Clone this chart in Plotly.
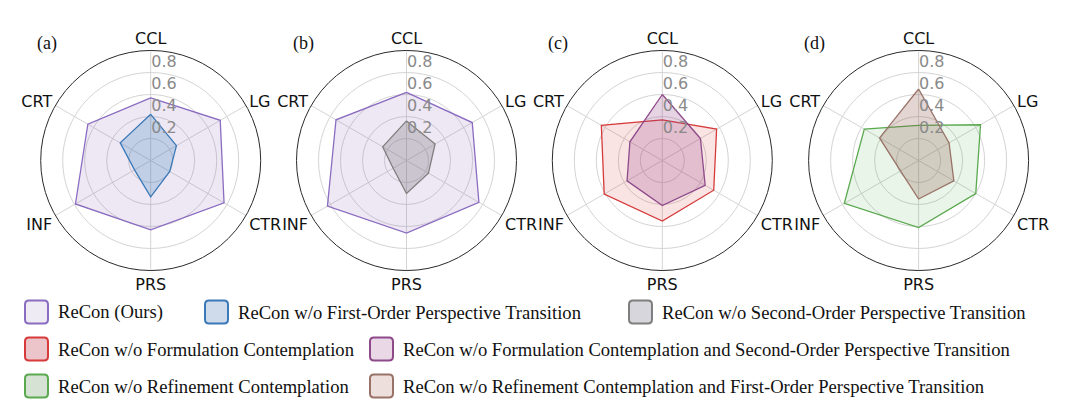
import plotly.graph_objects as go

# ---------------- data ----------------
categories = ["CCL", "LG", "CTR", "PRS", "INF", "CRT"]
radial_ticks = [0.2, 0.4, 0.6, 0.8]
panel_labels = ["(a)", "(b)", "(c)", "(d)"]

series_names = [
    "ReCon (Ours)",
    "ReCon w/o First-Order Perspective Transition",
    "ReCon w/o Second-Order Perspective Transition",
    "ReCon w/o Formulation Contemplation",
    "ReCon w/o Formulation Contemplation and Second-Order Perspective Transition",
    "ReCon w/o Refinement Contemplation",
    "ReCon w/o Refinement Contemplation and First-Order Perspective Transition",
]

# panel (a)
a_recon = [0.57, 0.73, 0.77, 0.63, 0.79, 0.66]
a_wo_first = [0.42, 0.27, 0.20, 0.33, 0.17, 0.32]
# panel (b)
b_recon = [0.62, 0.69, 0.76, 0.66, 0.83, 0.74]
b_wo_second = [0.36, 0.30, 0.23, 0.30, 0.14, 0.25]
# panel (c)
c_wo_formulation = [0.37, 0.57, 0.54, 0.55, 0.61, 0.64]
c_wo_form_second = [0.60, 0.40, 0.45, 0.41, 0.37, 0.34]
# panel (d)
d_wo_refinement = [0.32, 0.65, 0.60, 0.61, 0.78, 0.57]
d_wo_ref_first = [0.65, 0.32, 0.37, 0.35, 0.19, 0.41]

# ---------------- styles ----------------
line_colors = ["#8a6cc0", "#3a7ab8", "#7f7f7f", "#d63a3a", "#8e4a8a", "#5aa94f", "#9a7368"]
fill_colors = [
    "rgba(148,103,189,0.16)",
    "rgba(31,119,180,0.22)",
    "rgba(110,110,110,0.28)",
    "rgba(214,39,40,0.13)",
    "rgba(140,60,130,0.22)",
    "rgba(44,160,44,0.10)",
    "rgba(140,86,75,0.25)",
]
legend_fills = ["#efebf5", "#cfdbeb", "#d7d6dc", "#ecc5ca", "#ead8e6", "#d6e3d4", "#ede0dc"]

panels = [
    [(a_recon, 0), (a_wo_first, 1)],
    [(b_recon, 0), (b_wo_second, 2)],
    [(c_wo_formulation, 3), (c_wo_form_second, 4)],
    [(d_wo_refinement, 5), (d_wo_ref_first, 6)],
]

W, H = 1080, 414
centers_x = [150.7, 406.5, 662.3, 918.6]
center_y = 160.5
radius = 110

fig = go.Figure()
layout_polars = {}
for i, panel in enumerate(panels):
    pname = "polar" if i == 0 else f"polar{i+1}"
    for vals, si in panel:
        fig.add_trace(go.Scatterpolar(
            r=vals + vals[:1],
            theta=categories + categories[:1],
            mode="lines",
            fill="toself",
            fillcolor=fill_colors[si],
            line=dict(color=line_colors[si], width=1.3),
            name=series_names[si],
            showlegend=False,
            subplot=pname,
            hoverinfo="skip",
        ))
    cx = centers_x[i]
    layout_polars[pname] = dict(
        domain=dict(
            x=[(cx - radius) / W, (cx + radius) / W],
            y=[1 - (center_y + radius) / H, 1 - (center_y - radius) / H],
        ),
        bgcolor="white",
        angularaxis=dict(
            rotation=90,
            direction="clockwise",
            categoryorder="array",
            categoryarray=categories,
            showline=True,
            linecolor="#2a2a2a",
            linewidth=1,
            gridcolor="#d4d4d4",
            gridwidth=1,
            ticks="",
            tickfont=dict(family="DejaVu Sans", size=16, color="#111111"),
        ),
        radialaxis=dict(
            range=[0, 1],
            angle=90,
            tickangle=90,
            side="clockwise",
            tickvals=radial_ticks,
            ticktext=[f"{v:.1f}<br> " for v in radial_ticks],
            showline=False,
            ticks="",
            gridcolor="#d4d4d4",
            gridwidth=1,
            tickfont=dict(family="DejaVu Sans", size=16, color="#8a8a8a"),
        ),
    )

fig.update_layout(**layout_polars)

annotations = []
shapes = []
# panel labels
label_x = [47, 303, 558, 814]
for lx, txt in zip(label_x, panel_labels):
    annotations.append(dict(
        x=lx / W, y=1 - 43 / H, xref="paper", yref="paper",
        text=txt, showarrow=False, xanchor="center", yanchor="middle",
        font=dict(family="Liberation Serif", size=18, color="#111111"),
    ))

# manual legend (rounded swatches + text)
legend_pos = [  # (box left x, row center y) in pixels
    (25, 312), (205, 312), (629, 312),
    (25, 349), (370, 349),
    (25, 386), (370, 386),
]
box = 23
rr = 4


def px(x, y):
    return x / W, 1 - y / H


def P(x, y):
    u, v = px(x, y)
    return f"{u:.5f},{v:.5f}"


for si, (bx, cy) in enumerate(legend_pos):
    x0, x1 = bx, bx + box
    y0, y1 = cy - box / 2, cy + box / 2
    path = (
        f"M {P(x0 + rr, y0)} L {P(x1 - rr, y0)} Q {P(x1, y0)} {P(x1, y0 + rr)} "
        f"L {P(x1, y1 - rr)} Q {P(x1, y1)} {P(x1 - rr, y1)} "
        f"L {P(x0 + rr, y1)} Q {P(x0, y1)} {P(x0, y1 - rr)} "
        f"L {P(x0, y0 + rr)} Q {P(x0, y0)} {P(x0 + rr, y0)} Z"
    )
    shapes.append(dict(
        type="path", xref="paper", yref="paper", path=path,
        fillcolor=legend_fills[si], line=dict(color=line_colors[si], width=2),
    ))
    tx, ty = px(bx + box + 8, cy)
    annotations.append(dict(
        x=tx, y=ty, xref="paper", yref="paper", text=series_names[si],
        showarrow=False, xanchor="left", yanchor="middle",
        font=dict(family="Liberation Serif", size=18.6, color="#111111"),
    ))

fig.update_layout(
    width=W, height=H,
    margin=dict(l=0, r=0, t=0, b=0),
    paper_bgcolor="white",
    plot_bgcolor="white",
    showlegend=False,
    annotations=annotations,
    shapes=shapes,
)

fig.write_html(
    "out.html",
    config={"displayModeBar": False},
    post_script="document.body.style.margin='0px';",
)
